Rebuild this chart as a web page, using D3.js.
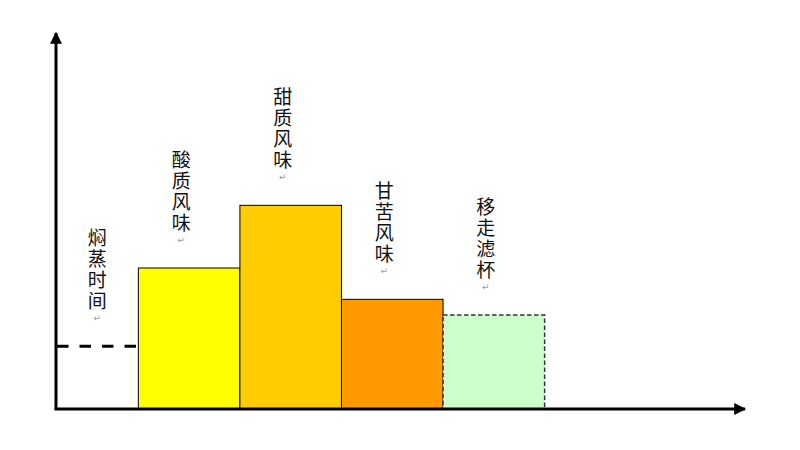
<!DOCTYPE html>
<html>
<head>
<meta charset="utf-8">
<script src="https://cdn.jsdelivr.net/npm/d3@7"></script>
<style>
  html, body { margin: 0; padding: 0; background: #fff; }
  svg { display: block; }
</style>
</head>
<body>
<svg id="plot"></svg>
<script>
const WIDTH = 800;
const HEIGHT = 450;

// Brewing stages: start / end along the time axis and level of each block
const STAGES = ['焖蒸时间', '酸质风味', '甜质风味', '甘苦风味', '移走滤杯'];
const STAGE_START = [0, 30, 67, 104, 141];
const STAGE_END = [30, 67, 104, 141, 178];
const STAGE_LEVEL = [20, 45, 65, 35, 30];
const STAGE_KIND = ['line', 'bar', 'bar', 'bar', 'dashed'];
const STAGE_COLOR = ['#000000', '#FFFF00', '#FFCC00', '#FF9900', '#CCFFCC'];

const X_MAX = 251;
const Y_MAX = 120;

function start() {
    let stages = STAGES.map((name, i) => ({
        name: name,
        x0: STAGE_START[i],
        x1: STAGE_END[i],
        level: STAGE_LEVEL[i],
        kind: STAGE_KIND[i],
        color: STAGE_COLOR[i],
    }));

    let chart = d3.select('#plot')
        .attr('width', WIDTH)
        .attr('height', HEIGHT);

    let xScale = d3.scaleLinear()
        .domain([0, X_MAX])
        .range([56, 745]);

    let yScale = d3.scaleLinear()
        .domain([0, Y_MAX])
        .range([409, 33]);

    // arrow heads
    let defs = chart.append('defs');
    defs.append('marker')
        .attr('id', 'arrow')
        .attr('viewBox', '0 0 10 10')
        .attr('refX', 9)
        .attr('refY', 5)
        .attr('markerUnits', 'userSpaceOnUse')
        .attr('markerWidth', 13)
        .attr('markerHeight', 12)
        .attr('orient', 'auto')
        .append('path')
            .attr('d', 'M0,0 L10,5 L0,10 Z')
            .attr('fill', '#000');

    // blocks
    let bars = stages.filter(d => d.kind !== 'line');
    chart.append('g')
        .selectAll('rect')
        .data(bars)
        .enter().append('rect')
            .attr('x', d => xScale(d.x0))
            .attr('y', d => yScale(d.level))
            .attr('width', d => xScale(d.x1) - xScale(d.x0))
            .attr('height', d => yScale(0) - yScale(d.level))
            .attr('fill', d => d.color)
            .attr('stroke', d => d.kind === 'dashed' ? '#333' : '#000')
            .attr('stroke-width', d => d.kind === 'dashed' ? 1.5 : 1)
            .attr('stroke-dasharray', d => d.kind === 'dashed' ? '4.5,2.5' : null);

    // bloom time dashed level
    let lines = stages.filter(d => d.kind === 'line');
    chart.append('g')
        .selectAll('line')
        .data(lines)
        .enter().append('line')
            .attr('x1', d => xScale(d.x0) + 1)
            .attr('x2', d => xScale(d.x1))
            .attr('y1', d => yScale(d.level))
            .attr('y2', d => yScale(d.level))
            .attr('stroke', '#000')
            .attr('stroke-width', 3)
            .attr('stroke-dasharray', '11.5,11');

    // axes
    chart.append('line')
        .attr('x1', xScale(0)).attr('y1', yScale(0))
        .attr('x2', xScale(0)).attr('y2', yScale(Y_MAX))
        .attr('stroke', '#000')
        .attr('stroke-width', 3)
        .attr('marker-end', 'url(#arrow)');
    chart.append('line')
        .attr('x1', xScale(0) - 1.5).attr('y1', yScale(0))
        .attr('x2', xScale(X_MAX)).attr('y2', yScale(0))
        .attr('stroke', '#000')
        .attr('stroke-width', 3)
        .attr('marker-end', 'url(#arrow)');

    // vertical labels over each stage
    const charStep = 21;
    let labels = chart.append('g')
        .selectAll('g')
        .data(stages)
        .enter().append('g')
            .attr('transform', d => {
                let cx = (xScale(d.x0) + xScale(d.x1)) / 2 - (d.kind === 'line' ? 0 : 8);
                let bottom = yScale(d.level) - 34;
                return `translate(${cx}, ${bottom})`;
            });

    labels.append('text')
        .attr('x', 0)
        .attr('y', d => -Array.from(d.name).length * charStep)
        .attr('writing-mode', 'vertical-rl')
        .attr('font-family', '"Noto Sans CJK SC", sans-serif')
        .attr('font-size', 19)
        .attr('letter-spacing', 2)
        .attr('fill', '#111')
        .style('text-orientation', 'upright')
        .text(d => d.name);

    labels.append('text')
        .attr('x', 0)
        .attr('y', 9)
        .attr('text-anchor', 'middle')
        .attr('font-family', '"DejaVu Sans", sans-serif')
        .attr('font-size', 9)
        .attr('fill', '#999')
        .text('↵');
}

window.onload = start;
</script>
</body>
</html>
